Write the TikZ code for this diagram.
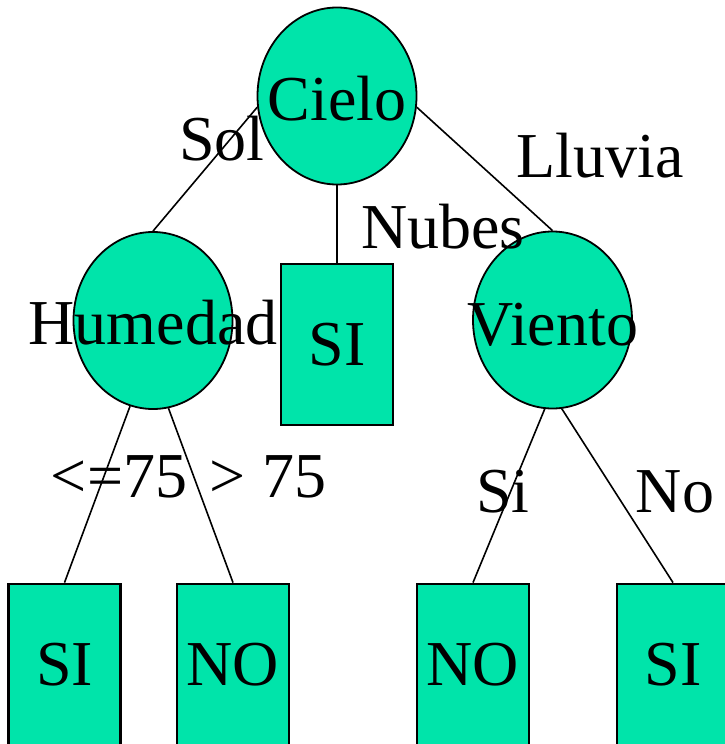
\documentclass[tikz,border=0pt]{standalone}
\usepackage{fontspec}
\setmainfont{Liberation Serif}
\usetikzlibrary{shapes.geometric}
\definecolor{leafgreen}{RGB}{0,228,170}
\tikzset{
  txt/.style={inner sep=0pt, anchor=base, font=\fontsize{64}{64}\selectfont},
  test/.style={ellipse, draw=black, fill=leafgreen, line width=1.8pt,
               minimum width=159pt, minimum height=177pt, inner sep=0pt},
  leaf/.style={rectangle, draw=black, fill=leafgreen, line width=2.8pt,
               minimum width=112pt, minimum height=161pt, inner sep=0pt,
               font=\fontsize{64}{64}\selectfont},
  edge/.style={draw=black, line width=1.6pt}
}
\begin{document}
\begin{tikzpicture}[x=1pt,y=-1pt]
\useasboundingbox (0,0) rectangle (725,744);
\clip (0,0) rectangle (725,744);

% connectors first, so the nodes sit on top of them
\coordinate (cieloC) at (337,96);
\coordinate (humC) at (153,320.5);
\coordinate (vienC) at (552.5,320);

% decision nodes
\node[test] (cielo) at (cieloC) {};
\node[test] (hum) at (humC) {};
\node[test] (vien) at (vienC) {};

% leaves
\node[leaf] (si0) at (337,344.5) {SI};
\node[leaf] (si1) at (64.5,664.5) {SI};
\node[leaf] (no1) at (233,664.5) {NO};
\node[leaf] (no2) at (473,664.5) {NO};
\node[leaf] (si2) at (673,664.5) {SI};

% branches
\draw[edge] (cielo.188) -- (hum.north);
\draw[edge] (cielo.south) -- (si0.north);
\draw[edge] (cielo.352) -- (vien.north);
\draw[edge] (hum.255) -- (si1.north);
\draw[edge] (hum.280) -- (no1.north);
\draw[edge] (vien.265) -- (no2.north);
\draw[edge] (vien.276) -- (si2.north);

% node titles
\node[txt] (cieloT) at (337,120) {Cielo};
\node[txt] (humT) at (153,344) {Humedad};
\node[txt] (vienT) at (553,345) {Viento};

% branch labels
\node[txt] (lSol) at (222,160) {Sol};
\node[txt] (lLluvia) at (600,177) {Lluvia};
\node[txt] (lNubes) at (443,248) {Nubes};
\node[txt] (lLe) at (119,497) {<=75};
\node[txt] (lGt) at (268,497) {> 75};
\node[txt] (lSi) at (503,512) {Si};
\node[txt] (lNo) at (675,512) {No};
\end{tikzpicture}
\end{document}
